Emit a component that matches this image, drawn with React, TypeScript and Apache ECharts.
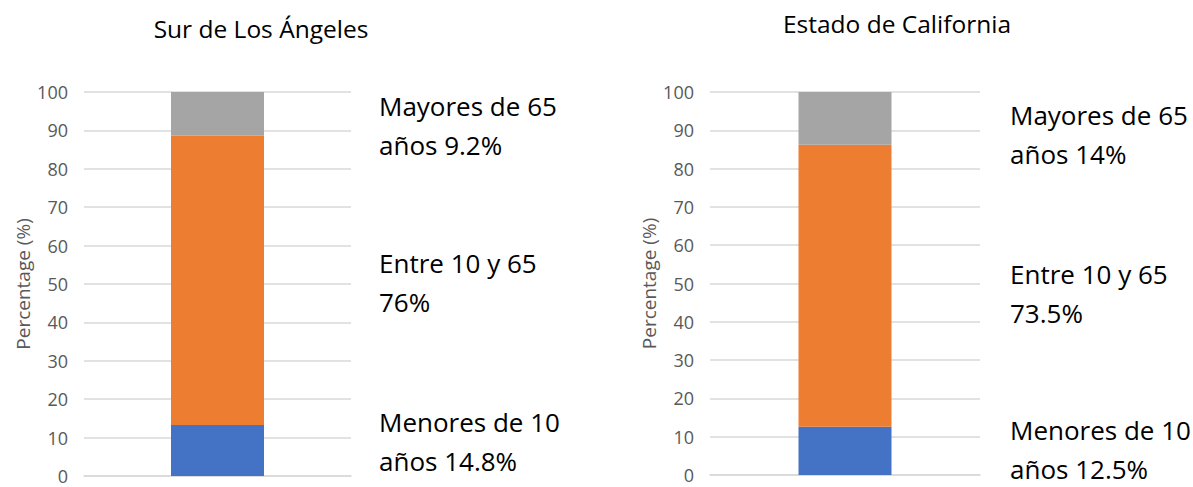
import React, { useEffect, useRef } from "react";
import * as echarts from "echarts";

const categories = [""];
const panelTitles = ["Sur de Los Ángeles", "Estado de California"];
const seriesNames = ["Menores de 10", "Entre 10 y 65", "Mayores de 65"];
const colors = ["#4472C4", "#ED7D31", "#A5A5A5"];

// bar values as drawn (percent)
const surUnder10 = [13.3];
const surMid = [75.3];
const surOver65 = [11.4];
const caUnder10 = [12.6];
const caMid = [73.6];
const caOver65 = [13.8];

const surLabels = ["Mayores de 65\naños 9.2%", "Entre 10 y 65\n76%", "Menores de 10\naños 14.8%"];
const caLabels = ["Mayores de 65\naños 14%", "Entre 10 y 65\n73.5%", "Menores de 10\naños 12.5%"];

const yAxisName = "Percentage (%)";
const FONT = "'Open Sans', sans-serif";

export default function App() {
  const ref = useRef<HTMLDivElement>(null);
  useEffect(() => {
    if (!ref.current) return;
    const chart = echarts.init(ref.current, null, { renderer: "svg" });
    const grids = [
      { left: 84, top: 92, width: 267, height: 384 },
      { left: 710, top: 92, width: 270, height: 383 },
    ];
    const yAxisBase = (gi: number) => ({
      type: "value",
      gridIndex: gi,
      min: 0,
      max: 100,
      interval: 10,
      name: yAxisName,
      nameLocation: "middle",
      nameGap: 52,
      nameTextStyle: { color: "#595959", fontSize: 19, fontFamily: FONT },
      axisLine: { show: false },
      axisTick: { show: false },
      axisLabel: { color: "#595959", fontSize: 18, fontFamily: FONT, margin: 16 },
      splitLine: { lineStyle: { color: "#D9D9D9", width: 1.5 } },
    });
    const xAxisBase = (gi: number) => ({
      type: "category",
      gridIndex: gi,
      data: categories,
      axisLine: { show: true, lineStyle: { color: "#D9D9D9", width: 1.5 } },
      axisTick: { show: false },
      axisLabel: { show: false },
    });
    const sets = [
      [surUnder10, surMid, surOver65],
      [caUnder10, caMid, caOver65],
    ];
    const series: any[] = [];
    sets.forEach((set, gi) => {
      set.forEach((vals, si) => {
        series.push({
          type: "bar",
          name: seriesNames[si],
          xAxisIndex: gi,
          yAxisIndex: gi,
          stack: "s" + gi,
          barWidth: 93,
          data: vals,
          itemStyle: { color: colors[si] },
        });
      });
    });
    const labelText = (x: number, y: number, text: string) => ({
      type: "text",
      x,
      y,
      style: {
        text,
        font: `26px ${FONT}`,
        fill: "#000000",
        lineHeight: 39,
        verticalAlign: "middle",
        align: "left",
      },
    });
    const surY = [125, 282.5, 441];
    const caY = [134, 293, 449.5];
    const graphic: any[] = [
      {
        type: "text",
        x: 261,
        y: 28,
        style: { text: panelTitles[0], font: `24.5px ${FONT}`, fill: "#000", align: "center", verticalAlign: "middle" },
      },
      {
        type: "text",
        x: 897,
        y: 23,
        style: { text: panelTitles[1], font: `24.5px ${FONT}`, fill: "#000", align: "center", verticalAlign: "middle" },
      },
    ];
    surLabels.forEach((t, i) => graphic.push(labelText(379, surY[i], t)));
    caLabels.forEach((t, i) => graphic.push(labelText(1010, caY[i], t)));

    chart.setOption({
      animation: false,
      backgroundColor: "#ffffff",
      grid: grids,
      xAxis: [xAxisBase(0), xAxisBase(1)],
      yAxis: [yAxisBase(0), yAxisBase(1)],
      series,
      graphic,
    });
    return () => chart.dispose();
  }, []);
  return (
    <div
      ref={ref}
      style={{ position: "fixed", left: 0, top: 0, width: 1193, height: 487 }}
    />
  );
}
